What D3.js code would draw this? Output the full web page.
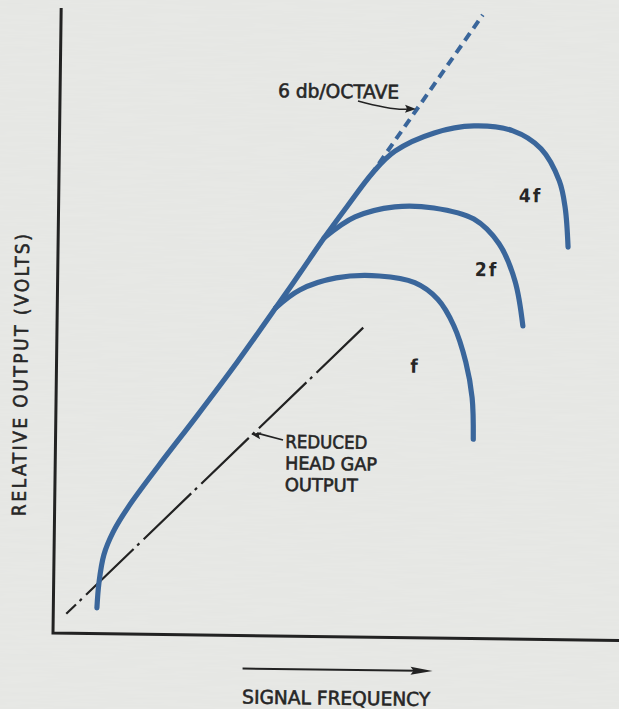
<!DOCTYPE html>
<html>
<head>
<meta charset="utf-8">
<script src="https://cdn.jsdelivr.net/npm/d3@7"></script>
<style>
  html, body { margin: 0; padding: 0; background: #e7e8e5; }
  svg { display: block; }
  text { font-family: 'DejaVu Sans Condensed', 'DejaVu Sans', sans-serif; fill: #262626; stroke: #262626; stroke-width: 0.55; }
</style>
</head>
<body>
<div id="chart"></div>
<script>
// Relative output vs signal frequency, arbitrary units (0-100 on both axes)
const MAIN_CURVE = [
  [7.7, 4.1], [8.0, 8.1], [8.8, 12.6], [10.4, 16.3], [13.0, 20.3], [18.2, 26.9],
  [24.9, 35.0], [31.9, 43.7], [38.6, 52.5], [42.8, 58.1], [47.0, 63.8], [51.0, 68.9],
  [55.5, 74.4], [59.3, 77.8], [66.2, 80.8], [73.2, 82.0], [80.1, 81.3], [85.1, 78.5],
  [88.4, 73.4], [89.5, 69.1], [90.1, 62.8]
];
const F_CURVE = [
  [38.6, 52.5], [42.8, 55.4], [49.2, 57.4], [56.8, 57.8], [63.1, 56.8], [67.2, 54.2],
  [70.1, 50.0], [72.3, 44.2], [73.5, 38.5], [73.8, 31.9]
];
const F2_CURVE = [
  [47.0, 63.8], [52.4, 67.2], [59.4, 68.9], [66.3, 68.8], [73.4, 67.1], [77.9, 63.2],
  [80.8, 57.3], [82.3, 50.1]
];
const OCTAVE_LINE = [[55.0, 73.8], [74.5, 99.8]];
const HEAD_GAP_LINE = [[2.3, 3.1], [54.1, 49.5]];
const CURVE_LABELS = ['f', '2f', '4f'];
const CURVE_LABEL_AT = [[62.5, 42.4], [73.7, 58.0], [81.3, 69.9]];

const width = 619, height = 709;
const plotW = 566, plotH = 625;
const BLUE = '#3a669b';
const INK = '#222';

const svg = d3.select('#chart').append('svg')
  .attr('width', width)
  .attr('height', height);

// faint paper grain
const grain = svg.append('defs').append('filter')
  .attr('id', 'grain')
  .attr('x', 0).attr('y', 0).attr('width', 1).attr('height', 1);
grain.append('feTurbulence')
  .attr('type', 'fractalNoise')
  .attr('baseFrequency', '0.02 0.35')
  .attr('numOctaves', 2)
  .attr('seed', 3);
grain.append('feColorMatrix')
  .attr('values', '0 0 0 0 0.55  0 0 0 0 0.56  0 0 0 0 0.55  0 0 0 0.09 0');

svg.append('rect')
  .attr('width', width)
  .attr('height', height)
  .attr('fill', '#e8e9e6');
svg.append('rect')
  .attr('width', width)
  .attr('height', height)
  .attr('filter', 'url(#grain)');

// the scan is turned a little, so the whole drawing sits in a rotated group
const g = svg.append('g')
  .attr('transform', 'translate(53,633) rotate(0.75)');

const x = d3.scaleLinear().domain([0, 100]).range([0, plotW]);
const y = d3.scaleLinear().domain([0, 100]).range([0, -plotH]);

const line = d3.line()
  .x(d => x(d[0]))
  .y(d => y(d[1]))
  .curve(d3.curveCatmullRom.alpha(0.5));

const straight = d3.line().x(d => x(d[0])).y(d => y(d[1]));

// axes
g.append('path')
  .attr('d', `M${x(0)},${y(100)}V${y(0)}H${x(104)}`)
  .attr('fill', 'none')
  .attr('stroke', INK)
  .attr('stroke-width', 3);

// reduced head gap output (dash-dot)
g.append('path')
  .attr('d', straight(HEAD_GAP_LINE))
  .attr('fill', 'none')
  .attr('stroke', INK)
  .attr('stroke-width', 2.2)
  .attr('stroke-dasharray', '66,5,3,6')
  .attr('stroke-dashoffset', 52.5);

// 6 db/octave asymptote
g.append('path')
  .attr('d', straight(OCTAVE_LINE))
  .attr('fill', 'none')
  .attr('stroke', BLUE)
  .attr('stroke-width', 4)
  .attr('stroke-dasharray', '9,6');

// response curves
[MAIN_CURVE, F_CURVE, F2_CURVE].forEach(pts => {
  g.append('path')
    .attr('d', line(pts))
    .attr('fill', 'none')
    .attr('stroke', BLUE)
    .attr('stroke-width', 5.2)
    .attr('stroke-linecap', 'round');
});

// curve labels
CURVE_LABELS.forEach((t, i) => {
  g.append('text')
    .attr('x', x(CURVE_LABEL_AT[i][0]))
    .attr('y', y(CURVE_LABEL_AT[i][1]))
    .attr('font-size', 19)
    .attr('font-weight', 'bold')
    .attr('letter-spacing', 2)
    .style('stroke-width', 0)
    .text(t);
});

// "6 db/OCTAVE" note with curved arrow
g.append('text')
  .attr('x', x(38.5))
  .attr('y', y(86.2))
  .attr('font-size', 19)
  .attr('textLength', 121)
  .attr('lengthAdjust', 'spacingAndGlyphs')
  .text('6 db/OCTAVE');

const a0 = [x(52.65), y(85.76)], ac = [x(59.22), y(84.24)], a1 = [x(62.92), y(84.61)];
g.append('path')
  .attr('d', `M${a0}Q${ac} ${a1[0] - 8},${a1[1] + 0.2}`)
  .attr('fill', 'none')
  .attr('stroke', INK)
  .attr('stroke-width', 1.6);
g.append('path')
  .attr('d', `M${a1[0]},${a1[1]}l-11,-4l2,4l-2,4z`)
  .attr('fill', INK);

// "REDUCED HEAD GAP OUTPUT" note
const noteLines = ['REDUCED', 'HEAD GAP', 'OUTPUT'];
const noteLen = [82, 92, 73];
noteLines.forEach((t, i) => {
  g.append('text')
    .attr('x', x(40.6))
    .attr('y', y(30.1) + i * 21.5)
    .attr('font-size', 18)
    .attr('textLength', noteLen[i])
    .attr('lengthAdjust', 'spacingAndGlyphs')
    .text(t);
});
const b0 = [x(40.19), y(31.36)], b1 = [x(34.52), y(32.26)];
const ang = Math.atan2(b1[1] - b0[1], b1[0] - b0[0]) * 180 / Math.PI;
g.append('line')
  .attr('x1', b0[0]).attr('y1', b0[1])
  .attr('x2', b1[0] + 6).attr('y2', b1[1] - 1)
  .attr('stroke', INK)
  .attr('stroke-width', 1.8);
g.append('path')
  .attr('transform', `translate(${b1}) rotate(${ang})`)
  .attr('d', 'M0,0L-10,-3.5L-8,0L-10,3.5Z')
  .attr('fill', INK);

// x axis title with arrow
g.append('line')
  .attr('x1', 190).attr('y1', 33)
  .attr('x2', 365).attr('y2', 33)
  .attr('stroke', INK)
  .attr('stroke-width', 2);
g.append('path')
  .attr('d', 'M380,33L358,29L361,33L358,37Z')
  .attr('fill', INK);
g.append('text')
  .attr('x', 284)
  .attr('y', 68)
  .attr('text-anchor', 'middle')
  .attr('font-size', 19)
  .attr('textLength', 188)
  .attr('lengthAdjust', 'spacingAndGlyphs')
  .text('SIGNAL FREQUENCY');

// y axis title
g.append('text')
  .attr('transform', `translate(-29,${y(41.2)}) rotate(-90)`)
  .attr('text-anchor', 'middle')
  .attr('font-size', 19)
  .attr('textLength', 282)
  .attr('lengthAdjust', 'spacing')
  .text('RELATIVE OUTPUT (VOLTS)');
</script>
</body>
</html>
